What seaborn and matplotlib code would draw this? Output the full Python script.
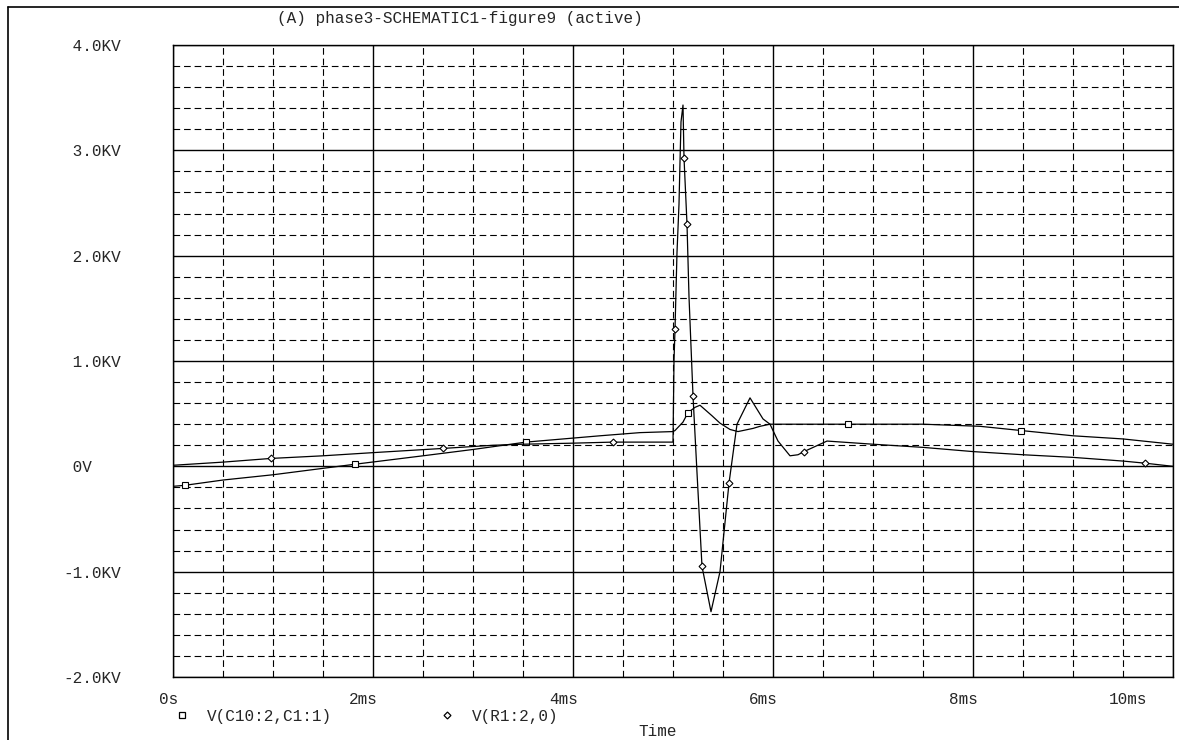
import matplotlib
matplotlib.use("Agg")
import matplotlib.pyplot as plt
import matplotlib.transforms as mtransforms
from matplotlib.lines import Line2D
import seaborn as sns

# time in ms, voltage in KV
sq_t = [0.0, 0.12, 0.5, 1.0, 1.82, 2.5, 3.0, 3.53, 4.27, 4.67, 5.0, 5.02, 5.1, 5.15,
        5.22, 5.27, 5.39, 5.47, 5.57, 5.65, 5.8, 5.87, 5.97, 6.2, 6.75, 7.5, 8.07,
        8.48, 9.0, 9.5, 10.0]
sq_v = [-0.19, -0.18, -0.13, -0.08, 0.02, 0.10, 0.16, 0.23, 0.29, 0.32, 0.33, 0.34,
        0.42, 0.51, 0.56, 0.58, 0.48, 0.41, 0.35, 0.33, 0.36, 0.38, 0.40, 0.40, 0.40,
        0.40, 0.38, 0.34, 0.29, 0.26, 0.21]
sq_marks = [0.12, 1.82, 3.53, 5.15, 6.75, 8.48]

dm_t = [0.0, 0.5, 0.98, 1.5, 2.0, 2.7, 3.2, 3.5, 4.0, 4.4,
        5.0, 5.01, 5.02, 5.04, 5.06, 5.07, 5.08, 5.10, 5.11, 5.14,
        5.16, 5.18, 5.20, 5.24, 5.29, 5.38, 5.47, 5.56, 5.64, 5.77,
        5.90, 5.97, 6.05, 6.17, 6.25, 6.31, 6.54, 7.0, 7.5, 8.0,
        8.5, 9.0, 9.5, 9.72, 10.0]
dm_v = [0.01, 0.04, 0.075, 0.10, 0.13, 0.17, 0.20, 0.21, 0.22, 0.23,
        0.23, 1.0, 1.3, 2.03, 2.49, 2.89, 3.27, 3.43, 2.93, 2.3,
        1.61, 1.14, 0.67, -0.06, -0.95, -1.38, -1.0, -0.16, 0.40, 0.65,
        0.45, 0.40, 0.24, 0.10, 0.11, 0.14, 0.24, 0.21, 0.18, 0.14,
        0.11, 0.085, 0.05, 0.03, 0.0]
dm_marks = [0.98, 2.7, 4.4, 5.02, 5.11, 5.14, 5.20, 5.29, 5.56, 6.31, 9.72]

x_ticks = [0, 2, 4, 6, 8, 10]
x_labels = ["0s", "2ms", "4ms", "6ms", "8ms", "10ms"]
y_ticks = [-2, -1, 0, 1, 2, 3, 4]
y_labels = ["-2.0KV", "-1.0KV", " 0V", " 1.0KV", " 2.0KV", " 3.0KV", " 4.0KV"]
series_names = ["V(C10:2,C1:1)", "V(R1:2,0)"]
title = "(A) phase3-SCHEMATIC1-figure9 (active)"

sns.set_theme(style="white")
plt.rcParams["font.family"] = ["Liberation Mono", "DejaVu Sans Mono"]
plt.rcParams["font.size"] = 11.5

W, H = 1179, 740
fig = plt.figure(figsize=(W / 100, H / 100), dpi=100)
ax = fig.add_axes([173 / W, 63 / H, 1000 / W, 632 / H])

sq_idx = [sq_t.index(m) for m in sq_marks]
dm_idx = [dm_t.index(m) for m in dm_marks]

sns.lineplot(x=sq_t, y=sq_v, ax=ax, color="black", lw=0.9, sort=False, estimator=None,
             marker="s", markevery=sq_idx, ms=5, mfc="white", mec="black", mew=0.8)
sns.lineplot(x=dm_t, y=dm_v, ax=ax, color="black", lw=0.9, sort=False, estimator=None,
             marker="D", markevery=dm_idx, ms=3.5, mfc="white", mec="black", mew=0.8)

ax.set_xlim(0, 10)
ax.set_ylim(-2, 4)

# grid: solid majors, dashed minors
ax.set_xticks([i * 0.5 for i in range(21)], minor=True)
ax.set_yticks([-2 + i * 0.2 for i in range(31)], minor=True)
ax.set_xticks(x_ticks, labels=x_labels)
ax.set_yticks(y_ticks, labels=y_labels)
ax.set_axisbelow(True)
ax.grid(True, which="minor", color="black", lw=0.8, ls=(0, (6, 3.5)))
ax.grid(True, which="major", color="black", lw=1.0, ls="-")

for sp in ax.spines.values():
    sp.set_color("black")
    sp.set_linewidth(1.0)

ax.tick_params(which="minor", length=0)
ax.tick_params(axis="x", which="major", direction="out", length=7.2, width=1.0,
               color="black", pad=3.6, labelsize=11.5)
ax.tick_params(axis="y", which="major", direction="out", length=8.6, width=1.0,
               color="black", pad=70.5, labelsize=11.5)

for lab in ax.get_yticklabels():
    lab.set_ha("left")

xlabs = ax.get_xticklabels()
for i, lab in enumerate(xlabs):
    lab.set_ha("right")
    dx = 5 if i < len(xlabs) - 1 else -26
    lab.set_transform(lab.get_transform() +
                      mtransforms.ScaledTranslation(dx / 100, 0, fig.dpi_scale_trans))

ax.set_xlabel("Time", fontsize=11.5)
ax.xaxis.set_label_coords((658 - 173) / 1000, (677 - 724) / 632)
ax.set_ylabel("")

fig.text(460 / W, 1 - 18 / H, title, ha="center", va="center", fontsize=11.5)

handles = [
    Line2D([], [], ls="none", marker="s", ms=5, mfc="white", mec="black", mew=0.9),
    Line2D([], [], ls="none", marker="D", ms=3.5, mfc="white", mec="black", mew=0.9),
]
fig.legend(handles, series_names, loc="center left", bbox_to_anchor=(174 / W, 1 - 716 / H),
           ncol=2, frameon=False, borderpad=0, borderaxespad=0, handlelength=1,
           handletextpad=1.06, columnspacing=6.7, fontsize=11.5)

# window frame of the probe screenshot
fig.add_artist(Line2D([8 / W, 8 / W], [0, 1 - 7 / H], transform=fig.transFigure,
                      color="black", lw=1.2))
fig.add_artist(Line2D([8 / W, 1], [1 - 7 / H, 1 - 7 / H], transform=fig.transFigure,
                      color="black", lw=1.2))

fig.savefig("out.png", dpi=100)
